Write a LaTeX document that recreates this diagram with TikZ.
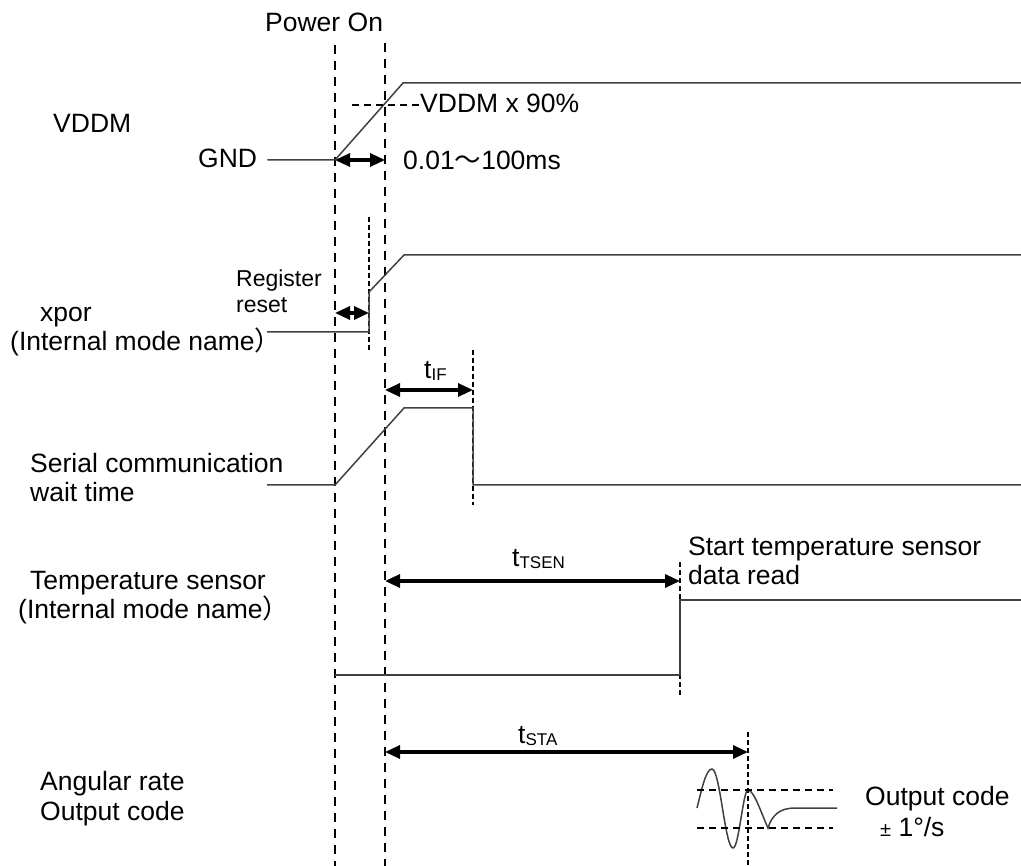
\documentclass[tikz,border=0pt]{standalone}
\usepackage{fontspec}
\setmainfont{Liberation Sans}
\newfontfamily\cjk{Noto Sans CJK SC}
\usetikzlibrary{arrows.meta, positioning}

\newcommand{\tsub}[1]{t\raisebox{-2pt}{\fontsize{17}{17}\selectfont #1}}

\begin{document}
\begin{tikzpicture}[
  x=1pt, y=-1pt,
  lbl/.style={anchor=base west, inner sep=0pt, font=\fontsize{26.5}{31}\selectfont},
  slbl/.style={anchor=base west, inner sep=0pt, font=\fontsize{23}{27}\selectfont},
  sig/.style={black!75, line width=1.5pt},
  mark line/.style={line width=2.8pt, dash pattern=on 9pt off 7pt},
  fine line/.style={line width=2.4pt, dash pattern=on 5pt off 3pt},
  level/.style={line width=2.4pt, dash pattern=on 7pt off 5pt},
  span/.style={{Triangle[length=15pt,width=13pt]}-{Triangle[length=15pt,width=13pt]}, line width=3.2pt},
]
\useasboundingbox (0,0) rectangle (1021,866);

% ---- 标签 ----
\node[lbl] (pon) at (265,32) {Power On};
\node[lbl] (vddm) at (53,133) {VDDM};
\node[lbl] (gnd) at (198,168) {GND};
\node[lbl] (v90) at (420,113) {VDDM x 90\%};
\node[lbl] (trise) at (403,170) {0.01{\cjk ～}100ms};
\node[slbl] (reg1) at (236,287) {Register};
\node[slbl] (reg2) at (236,313) {reset};
\node[lbl] (xpor1) at (40,322) {xpor};
\node[lbl] (xpor2) at (10,351) {(Internal mode name{\cjk ）}};
\node[lbl] (tif) at (424,379) {\tsub{IF}};
\node[lbl] (ser1) at (30,473) {Serial communication};
\node[lbl] (ser2) at (30,502) {wait time};
\node[lbl] (tsen) at (512,566) {\tsub{TSEN}};
\node[lbl] (rd1) at (688,555) {Start temperature sensor};
\node[lbl] (rd2) at (688,584) {data read};
\node[lbl] (tmp1) at (30,590) {Temperature sensor};
\node[lbl] (tmp2) at (18,619) {(Internal mode name{\cjk ）}};
\node[lbl] (tsta) at (518,743) {\tsub{STA}};
\node[lbl] (ang1) at (40,790) {Angular rate};
\node[lbl] (ang2) at (40,820) {Output code};
\node[lbl] (oc1) at (865,805) {Output code};
\node[lbl] (oc2) at (880,836) {{\fontsize{20}{20}\selectfont ±} 1\textdegree/s};

% ---- 时刻线 ----
\coordinate (on) at (335,45);
\coordinate (rdy) at (385,43);
\draw[mark line] (on) -- (335,866);
\draw[mark line] (rdy) -- (385,866);
\draw[fine line] (369,217) -- (369,352);
\draw[fine line] (473,350) -- (473,505);
\draw[fine line] (680,562) -- (680,695);
\draw[fine line] (748,732) -- (748,866);

% ---- 波形 ----
\draw[sig] (gnd.east |- 0,160) ++(10,0) -- (335,160) -- (403,83) -- (1021,83);
\draw[level] (352,105) -- (v90.west |- 0,105);
\draw[sig] (267,332) -- (369,332) -- (369,292) -- (404,255) -- (1021,255);
\draw[sig] (267,485) -- (335,485) -- (404,408) -- (473,408) -- (473,485) -- (1021,485);
\draw[sig] (335,675) -- (680,675) -- (680,600) -- (1021,600);
\draw[sig] (697,808) .. controls (702,788) and (706,769) .. (712,769)
  .. controls (720,769) and (725,848) .. (733,848)
  .. controls (739,848) and (743,790) .. (748,790)
  .. controls (754,790) and (762,815) .. (768,828)
  .. controls (772,815) and (780,808) .. (795,808) -- (837,808);
\draw[level] (697,790) -- (833,790);
\draw[level] (697,828) -- (833,828);

% ---- 时间间隔 ----
\draw[span] (335,160) -- (385,160);
\draw[span] (335,313) -- (369,313);
\draw[span] (385,390) -- (473,390);
\draw[span] (385,581) -- (680,581);
\draw[span] (385,752) -- (748,752);

\end{tikzpicture}
\end{document}
